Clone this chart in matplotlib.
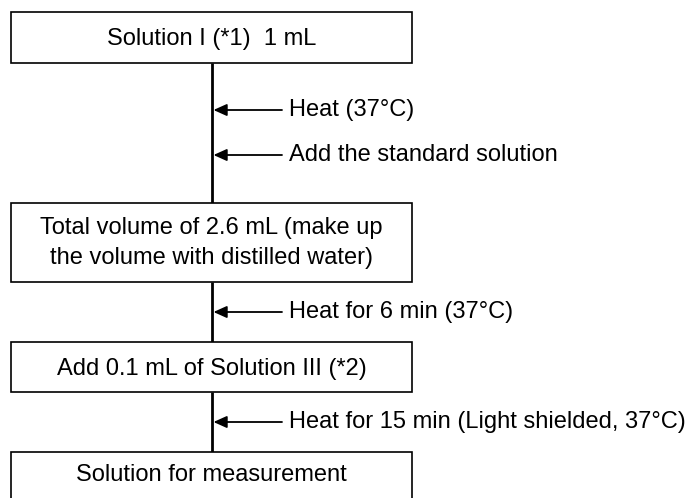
import matplotlib.pyplot as plt
from matplotlib.patches import Rectangle

# Flowchart content
steps = [
    'Solution I (*1)  1 mL',
    'Total volume of 2.6 mL (make up\nthe volume with distilled water)',
    'Add 0.1 mL of Solution III (*2)',
    'Solution for measurement',
]
actions = [
    'Heat (37\u00b0C)',
    'Add the standard solution',
    'Heat for 6 min (37\u00b0C)',
    'Heat for 15 min (Light shielded, 37\u00b0C)',
]

# layout in pixels (top-down)
box_left, box_right = 11, 412
box_top = [12, 203, 342, 452]
box_bottom = [63, 282, 392, 506]
text_y = [39, 243, 369, 475]
action_y = [110, 155, 312, 422]
line_x = 212
arrow_tail = 282

plt.rcParams['font.family'] = ['Liberation Sans', 'DejaVu Sans']
fig = plt.figure(figsize=(6.89, 4.98), dpi=100)
ax = fig.add_axes([0, 0, 1, 1])
ax.set_xlim(0, 689)
ax.set_ylim(498, 0)
ax.axis('off')

# vertical connectors
for i in range(len(steps) - 1):
    ax.plot([line_x, line_x], [box_bottom[i], box_top[i + 1]], color='black', lw=2,
            solid_capstyle='butt', zorder=1)

# boxes
for label, top, bottom, ty in zip(steps, box_top, box_bottom, text_y):
    ax.add_patch(Rectangle((box_left, top), box_right - box_left, bottom - top,
                           facecolor='white', edgecolor='black', lw=1.2, zorder=2))
    ax.text((box_left + box_right) / 2, ty, label, ha='center', va='center',
            fontsize=17, linespacing=1.45, zorder=3)

# side arrows
for label, y in zip(actions, action_y):
    ax.annotate('', xy=(line_x + 1.5, y), xytext=(arrow_tail, y),
                arrowprops=dict(arrowstyle='-|>,head_length=0.8,head_width=0.36',
                                color='black', lw=1.3, shrinkA=0, shrinkB=0))
    ax.text(arrow_tail + 7, y - 0.5, label, ha='left', va='center', fontsize=17)

fig.savefig('out.png', dpi=100)
